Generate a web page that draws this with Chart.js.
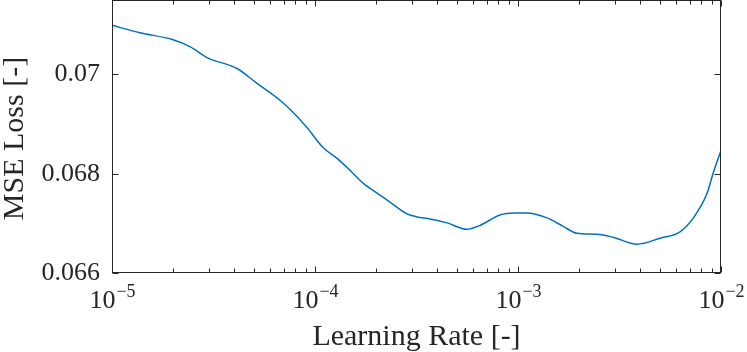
<!DOCTYPE html>
<html>
<head>
<meta charset="utf-8">
<script src="https://cdn.jsdelivr.net/npm/chart.js@4"></script>
<style>
  body { margin: 0; background: #fff; }
  #wrap { width: 747px; height: 352px; }
</style>
</head>
<body>
<div id="wrap"><canvas id="lrplot" width="747" height="352"></canvas></div>
<script>
// learning rate sweep (x) and smoothed loss (y)
var learningRates = [
  1.00e-5, 1.374e-5, 2.00e-5, 2.42e-5, 2.94e-5, 4.13e-5, 5.18e-5, 6.72e-5, 7.79e-5, 9.13e-5,
  1.095e-4, 1.284e-4, 1.487e-4, 1.724e-4, 2.02e-4, 2.34e-4, 2.84e-4, 3.18e-4, 3.69e-4, 4.47e-4,
  5.61e-4, 6.50e-4, 8.15e-4, 9.67e-4, 1.107e-3, 1.39e-3, 1.67e-3, 1.95e-3, 2.45e-3, 2.94e-3,
  3.86e-3, 5.01e-3, 6.28e-3, 7.28e-3, 8.53e-3, 9.13e-3, 1.00e-2
]
var mseLoss = [
  0.07099, 0.07084, 0.07070, 0.07056, 0.07034, 0.07012, 0.06982, 0.06948, 0.06924, 0.06893,
  0.06853, 0.06831, 0.06807, 0.06781, 0.06761, 0.06743, 0.06719, 0.06713, 0.06709, 0.06701,
  0.06688, 0.06696, 0.06717, 0.06721, 0.06721, 0.06711, 0.06694, 0.06680, 0.06678, 0.06672,
  0.06658, 0.06670, 0.06683, 0.06710, 0.06760, 0.06800, 0.06847
]

var xTickValues = [1e-5, 1e-4, 1e-3, 1e-2]
var xTickExps   = ['\u22125', '\u22124', '\u22123', '\u22122']
var yTickValues = [0.066, 0.068, 0.07]
var yTickLabels = ['0.066', '0.068', '0.07']

var xTitle = 'Learning Rate [-]'
var yTitle = 'MSE Loss [-]'

const axisColor = '#262626'
const serif = '"Liberation Serif", "Times New Roman", serif'

// matlab style box with inward ticks, drawn from the chart's own scales
const matlabAxes = {
  id: 'matlabAxes',
  afterDraw: function(chart) {
    const ctx = chart.ctx
    const a = chart.chartArea
    const xs = chart.scales.x
    const ys = chart.scales.y
    const L = Math.round(a.left) + 0.5, R = Math.round(a.right) - 0.5
    const T = Math.round(a.top) + 0.5,  B = Math.round(a.bottom) - 0.5
    ctx.save()
    ctx.strokeStyle = axisColor
    ctx.lineWidth = 1
    ctx.strokeRect(L, T, R - L, B - T)

    ctx.beginPath()
    // x ticks: major on decades, minor 2..9
    for (var d = -5; d <= -2; d++) {
      for (var m = 1; m <= 9; m++) {
        var v = m * Math.pow(10, d)
        if (v > 1e-2 * 1.0001) break
        var px = Math.round(xs.getPixelForValue(v)) + 0.5
        var len = (m === 1) ? 6 : 4
        ctx.moveTo(px, B); ctx.lineTo(px, B - len)
        ctx.moveTo(px, T); ctx.lineTo(px, T + len)
      }
    }
    // y ticks
    yTickValues.forEach(function(v) {
      var py = Math.round(ys.getPixelForValue(v)) + 0.5
      ctx.moveTo(L, py); ctx.lineTo(L + 6, py)
      ctx.moveTo(R, py); ctx.lineTo(R - 6, py)
    })
    ctx.stroke()

    ctx.fillStyle = axisColor
    // y tick labels
    ctx.font = '26px ' + serif
    ctx.textAlign = 'right'
    ctx.textBaseline = 'middle'
    yTickValues.forEach(function(v, i) {
      ctx.fillText(yTickLabels[i], a.left - 12, ys.getPixelForValue(v))
    })

    // x tick labels as 10 with a raised exponent
    ctx.textBaseline = 'alphabetic'
    ctx.textAlign = 'left'
    xTickValues.forEach(function(v, i) {
      ctx.font = '26px ' + serif
      var wBase = ctx.measureText('10').width
      ctx.font = '18px ' + serif
      var wExp = ctx.measureText(xTickExps[i]).width
      var x0 = xs.getPixelForValue(v) - (wBase + wExp) / 2
      ctx.font = '26px ' + serif
      ctx.fillText('10', x0, 308)
      ctx.font = '18px ' + serif
      ctx.fillText(xTickExps[i], x0 + wBase + 1, 297)
    })

    // axis titles
    ctx.font = '30px ' + serif
    ctx.textAlign = 'center'
    ctx.fillText(xTitle, (a.left + a.right) / 2, 345)
    ctx.save()
    ctx.translate(23, (a.top + a.bottom) / 2 + 2)
    ctx.rotate(-Math.PI / 2)
    ctx.fillText(yTitle, 0, 0)
    ctx.restore()
    ctx.restore()
  }
}

const points = learningRates.map(function(lr, i) { return { x: lr, y: mseLoss[i] } })

const chart = new Chart(document.getElementById('lrplot').getContext('2d'), {
  type: 'line',
  data: {
    datasets: [{
      data: points,
      borderColor: '#0072BD',
      borderWidth: 1.5,
      pointRadius: 0,
      fill: false,
      cubicInterpolationMode: 'monotone'
    }]
  },
  options: {
    responsive: false,
    animation: false,
    devicePixelRatio: 1,
    layout: { padding: { left: 112, right: 26, top: 0, bottom: 79 } },
    plugins: { legend: { display: false }, tooltip: { enabled: false } },
    scales: {
      x: { type: 'logarithmic', min: 1e-5, max: 1e-2, display: false },
      y: { type: 'linear', min: 0.066, max: 0.0715, display: false }
    }
  },
  plugins: [matlabAxes]
})
</script>
</body>
</html>
